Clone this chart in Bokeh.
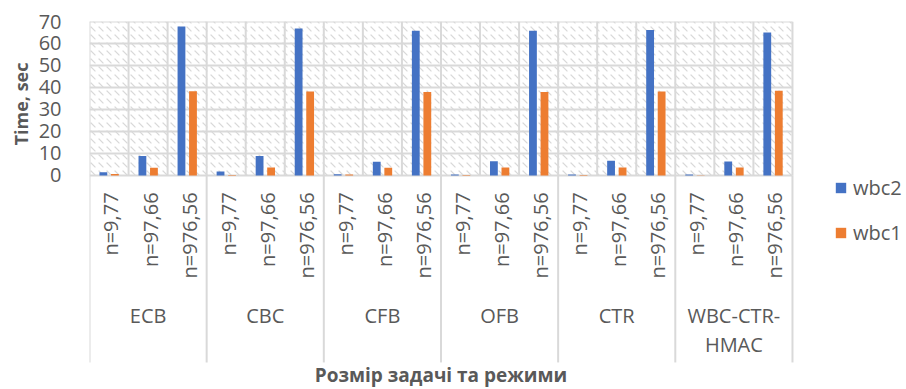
from math import pi
from bokeh.plotting import figure
from bokeh.models import (ColumnDataSource, Range1d, FixedTicker, BoxAnnotation,
                          Legend, LegendItem, Title)
from bokeh.core.properties import value
from bokeh.embed import file_html
from bokeh.resources import INLINE

# ---- data ----
groups = ["ECB", "CBC", "CFB", "OFB", "CTR", "WBC-CTR-HMAC"]
group_labels = ["ECB", "CBC", "CFB", "OFB", "CTR", "WBC-CTR-\nHMAC"]
sizes = ["n=9,77", "n=97,66", "n=976,56"]
wbc2 = [1.5, 8.8, 67.7,
        1.8, 8.8, 66.8,
        0.6, 6.2, 65.8,
        0.5, 6.5, 65.8,
        0.5, 6.7, 66.1,
        0.4, 6.4, 65.0]
wbc1 = [0.7, 3.5, 38.3,
        0.2, 3.6, 38.2,
        0.4, 3.5, 37.9,
        0.2, 3.6, 37.9,
        0.2, 3.6, 38.2,
        0.1, 3.6, 38.5]
y_ticks = [0, 10, 20, 30, 40, 50, 60, 70]
series_names = ["wbc2", "wbc1"]
colors = ["#4472C4", "#ED7D31"]
x_title = "Розмір задачі та режими"
y_title = "Time, sec"

FONT = value("Open Sans")
TXT = "#595959"
GRID = "#D9D9D9"

n_sub = len(sizes)
n_cells = len(groups) * n_sub
ymax = y_ticks[-1]

# category positions (cell centres) derived from the category indices
xc = [gi * n_sub + si + 0.5 for gi in range(len(groups)) for si in range(n_sub)]
gx = [gi * n_sub + n_sub / 2 for gi in range(len(groups))]
src = ColumnDataSource(dict(x=xc, x2=[v - 0.145 for v in xc], x1=[v + 0.15 for v in xc],
                            xl=[v + 0.05 for v in xc],
                            wbc2=wbc2, wbc1=wbc1, sub=[s for g in groups for s in sizes]))
gsrc = ColumnDataSource(dict(x=gx, label=group_labels))

p = figure(width=906, height=389, output_backend="svg", toolbar_location=None,
           x_range=Range1d(0, n_cells + 2.92), y_range=Range1d(-97.3, ymax),
           min_border_left=89, min_border_right=0, min_border_top=21, min_border_bottom=0)
p.outline_line_color = None
p.background_fill_color = "white"
p.xaxis.visible = False
p.xgrid.visible = False
p.ygrid.visible = False

ax = p.yaxis[0]
ax.ticker = FixedTicker(ticks=y_ticks)
ax.axis_line_color = None
ax.major_tick_line_color = None
ax.minor_tick_line_color = None
ax.major_label_standoff = 22
ax.major_label_text_font = "Open Sans"
ax.major_label_text_font_size = "20px"
ax.major_label_text_color = TXT

# y axis title, placed over the value area
p.add_layout(Title(text=y_title, align="right", offset=41, text_font="Open Sans",
                   text_font_size="18px", text_font_style="bold", text_color=TXT,
                   standoff=5), "left")

# hatched plot area
p.add_layout(BoxAnnotation(left=0, right=n_cells, bottom=0, top=ymax, fill_color=None,
                           line_color=None, hatch_pattern="`", hatch_color="#D4D4D4",
                           hatch_scale=8, hatch_weight=1.2, hatch_alpha=0.9, level="underlay"))

# horizontal grid
gy = y_ticks
p.segment(x0=[0] * len(gy), y0=gy, x1=[n_cells] * len(gy), y1=gy,
          line_color=GRID, line_width=2)
# vertical grid (cell boundaries)
cells = list(range(n_cells + 1))
p.segment(x0=cells, y0=[0] * len(cells), x1=cells, y1=[ymax] * len(cells),
          line_color=GRID, line_width=2)
# group separators in the category axis
seps = list(range(0, n_cells + 1, n_sub))
p.segment(x0=seps, y0=[0] * len(seps), x1=seps, y1=[-85] * len(seps),
          line_color=GRID, line_width=2)

# bars
r2 = p.vbar(x="x2", top="wbc2", width=0.2, source=src, fill_color=colors[0], line_color=None)
r1 = p.vbar(x="x1", top="wbc1", width=0.2, source=src, fill_color=colors[1], line_color=None)

# category labels
p.text(x="xl", y=-7.7, text="sub", source=src, angle=pi / 2,
       text_align="right", text_baseline="middle", text_font=FONT,
       text_font_size="20px", text_color=TXT)
p.text(x="x", y=-57.5, text="label", source=gsrc, text_align="center", text_baseline="top",
       text_font=FONT, text_font_size="20px", text_color=TXT, text_line_height=1.08)

# x axis title
p.text(x=[n_cells / 2], y=[-90.5], text=[x_title], text_align="center",
       text_baseline="middle", text_font=FONT, text_font_size="19px",
       text_font_style="bold", text_color=TXT)

legend = Legend(items=[LegendItem(label=series_names[0], renderers=[r2]),
                       LegendItem(label=series_names[1], renderers=[r1])],
                location=(745, 143), orientation="vertical", padding=0, margin=0,
                spacing=18, glyph_width=13, glyph_height=13, label_standoff=6,
                label_text_font="Open Sans", label_text_font_size="20px",
                label_text_color=TXT, border_line_color=None, background_fill_alpha=0)
p.add_layout(legend)

open("out.html", "w").write(file_html(p, INLINE))
